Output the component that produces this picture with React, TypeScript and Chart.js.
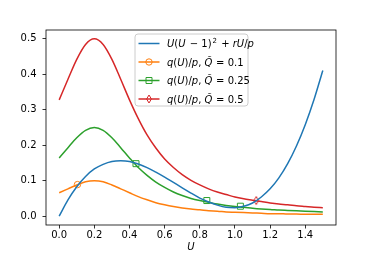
import React, { useEffect, useRef } from 'react';
import { Chart, registerables } from 'chart.js';

Chart.register(...registerables);

const U_VALUES = [0, 0.05, 0.1, 0.15, 0.2, 0.25, 0.3, 0.35, 0.4, 0.45, 0.5, 0.55, 0.6, 0.65, 0.7, 0.75, 0.8, 0.85, 0.9, 0.95, 1.0, 1.05, 1.1, 1.15, 1.2, 1.25, 1.3, 1.35, 1.4, 1.45, 1.5];
const BLUE_VALUES = [0, 0.046, 0.083, 0.112, 0.133, 0.146, 0.154, 0.156, 0.154, 0.147, 0.137, 0.124, 0.110, 0.095, 0.080, 0.065, 0.051, 0.040, 0.031, 0.025, 0.024, 0.028, 0.037, 0.054, 0.077, 0.108, 0.148, 0.198, 0.258, 0.329, 0.411];
const ORANGE_VALUES = [0.066, 0.077, 0.088, 0.097, 0.100, 0.097, 0.088, 0.077, 0.066, 0.055, 0.046, 0.038, 0.032, 0.027, 0.023, 0.020, 0.018, 0.015, 0.014, 0.012, 0.011, 0.010, 0.009, 0.008, 0.007, 0.007, 0.006, 0.006, 0.005, 0.005, 0.005];
const GREEN_VALUES = [0.164, 0.193, 0.221, 0.242, 0.250, 0.242, 0.221, 0.193, 0.164, 0.137, 0.115, 0.096, 0.081, 0.068, 0.058, 0.050, 0.044, 0.039, 0.034, 0.030, 0.027, 0.025, 0.022, 0.020, 0.019, 0.017, 0.016, 0.015, 0.014, 0.013, 0.012];
const RED_VALUES = [0.328, 0.386, 0.442, 0.484, 0.500, 0.484, 0.442, 0.386, 0.328, 0.275, 0.229, 0.192, 0.161, 0.137, 0.117, 0.101, 0.088, 0.077, 0.068, 0.061, 0.054, 0.049, 0.045, 0.041, 0.037, 0.034, 0.032, 0.029, 0.027, 0.025, 0.024];

const ORANGE_MARK_U = [0.104];
const ORANGE_MARK_Y = [0.089];
const GREEN_MARK_U = [0.437, 0.84, 1.031];
const GREEN_MARK_Y = [0.148, 0.044, 0.028];
const RED_MARK_U = [1.121];
const RED_MARK_Y = [0.044];

const X_TICKS = [0, 0.2, 0.4, 0.6, 0.8, 1.0, 1.2, 1.4];
const Y_TICKS = [0, 0.1, 0.2, 0.3, 0.4, 0.5];

const BLUE = '#1f77b4';
const ORANGE = '#ff7f0e';
const GREEN = '#2ca02c';
const RED = '#d62728';

type Seg = { t: string; it?: boolean; sup?: boolean; gap?: number };
const LEGEND_ITEMS: { color: string; marker: string | null; segs: Seg[] }[] = [
  {
    color: BLUE, marker: null,
    segs: [{ t: 'U', it: true }, { t: '(' }, { t: 'U', it: true }, { t: ' \u2212 1)', gap: 1 }, { t: '2', sup: true, gap: 1 }, { t: ' + ', gap: 1 }, { t: 'rU', it: true }, { t: '/' }, { t: 'p', it: true }],
  },
  {
    color: ORANGE, marker: 'circle',
    segs: [{ t: 'q', it: true }, { t: '(' }, { t: 'U', it: true }, { t: ')/' }, { t: 'p', it: true }, { t: ', ' }, { t: 'Q\u0303', it: true }, { t: ' = 0.1', gap: 0.5 }],
  },
  {
    color: GREEN, marker: 'square',
    segs: [{ t: 'q', it: true }, { t: '(' }, { t: 'U', it: true }, { t: ')/' }, { t: 'p', it: true }, { t: ', ' }, { t: 'Q\u0303', it: true }, { t: ' = 0.25', gap: 0.5 }],
  },
  {
    color: RED, marker: 'diamond',
    segs: [{ t: 'q', it: true }, { t: '(' }, { t: 'U', it: true }, { t: ')/' }, { t: 'p', it: true }, { t: ', ' }, { t: 'Q\u0303', it: true }, { t: ' = 0.5', gap: 0.5 }],
  },
];

const FONT = '"DejaVu Sans"';
const TICK_SIZE = 10;
const LEGEND_SIZE = 10;

function drawMarker(ctx: CanvasRenderingContext2D, kind: string, x: number, y: number, color: string) {
  ctx.save();
  ctx.strokeStyle = color;
  ctx.lineWidth = 1;
  ctx.beginPath();
  if (kind === 'circle') {
    ctx.arc(x, y, 3.2, 0, Math.PI * 2);
  } else if (kind === 'square') {
    ctx.rect(x - 3, y - 3, 6, 6);
  } else if (kind === 'diamond') {
    ctx.moveTo(x, y - 4);
    ctx.lineTo(x + 2.4, y);
    ctx.lineTo(x, y + 4);
    ctx.lineTo(x - 2.4, y);
    ctx.closePath();
  }
  ctx.stroke();
  ctx.restore();
}

function makeDiamond(color: string): HTMLCanvasElement {
  const c = document.createElement('canvas');
  c.width = 8;
  c.height = 11;
  const ctx = c.getContext('2d')!;
  drawMarker(ctx, 'diamond', 4, 5.5, color);
  return c;
}

const framePlugin = {
  id: 'framePlugin',
  afterDraw(chart: any) {
    const { ctx, chartArea } = chart;
    const { left, top, right, bottom } = chartArea;
    ctx.save();
    ctx.strokeStyle = '#000';
    ctx.lineWidth = 0.8;
    ctx.strokeRect(left, top, right - left, bottom - top);

    const bx = 135, by = 34, bw = 113, bh = 72, r = 3;
    ctx.beginPath();
    ctx.moveTo(bx + r, by);
    ctx.lineTo(bx + bw - r, by);
    ctx.quadraticCurveTo(bx + bw, by, bx + bw, by + r);
    ctx.lineTo(bx + bw, by + bh - r);
    ctx.quadraticCurveTo(bx + bw, by + bh, bx + bw - r, by + bh);
    ctx.lineTo(bx + r, by + bh);
    ctx.quadraticCurveTo(bx, by + bh, bx, by + bh - r);
    ctx.lineTo(bx, by + r);
    ctx.quadraticCurveTo(bx, by, bx + r, by);
    ctx.closePath();
    ctx.fillStyle = 'rgba(255,255,255,0.8)';
    ctx.fill();
    ctx.strokeStyle = '#cccccc';
    ctx.lineWidth = 1;
    ctx.stroke();

    LEGEND_ITEMS.forEach((item, i) => {
      const y = 43.5 + i * 18.5;
      ctx.strokeStyle = item.color;
      ctx.lineWidth = 1.5;
      ctx.beginPath();
      ctx.moveTo(138.5, y);
      ctx.lineTo(159.5, y);
      ctx.stroke();
      if (item.marker) drawMarker(ctx, item.marker, 149, y, item.color);
      let x = 167;
      const base = y + 3.6;
      ctx.fillStyle = '#000';
      ctx.textBaseline = 'alphabetic';
      ctx.textAlign = 'left';
      item.segs.forEach((s) => {
        const size = s.sup ? LEGEND_SIZE * 0.7 : LEGEND_SIZE;
        ctx.font = `${s.it ? 'italic ' : ''}${size}px ${FONT}`;
        const yy = s.sup ? base - LEGEND_SIZE * 0.42 : base;
        x += s.gap || 0;
        ctx.fillText(s.t, x, yy);
        x += ctx.measureText(s.t).width;
      });
    });
    ctx.restore();
  },
};

export default function App() {
  const ref = useRef<HTMLCanvasElement | null>(null);
  useEffect(() => {
    document.body.style.margin = '0';
    const canvas = ref.current!;
    const line = (vals: number[], color: string) => ({
      data: U_VALUES.map((u, i) => ({ x: u, y: vals[i] })),
      borderColor: color,
      backgroundColor: color,
      borderWidth: 1.5,
      pointRadius: 0,
      fill: false,
      cubicInterpolationMode: 'monotone' as const,
    });
    const marks = (us: number[], ys: number[], color: string, style: any, radius: number) => ({
      data: us.map((u, i) => ({ x: u, y: ys[i] })),
      showLine: false,
      borderColor: color,
      pointBorderColor: color,
      pointBackgroundColor: 'rgba(0,0,0,0)',
      pointBorderWidth: 1,
      pointRadius: radius,
      pointStyle: style,
    });
    const chart = new Chart(canvas, {
      type: 'line',
      data: {
        datasets: [
          line(BLUE_VALUES, BLUE),
          line(ORANGE_VALUES, ORANGE),
          line(GREEN_VALUES, GREEN),
          line(RED_VALUES, RED),
          marks(ORANGE_MARK_U, ORANGE_MARK_Y, ORANGE, 'circle', 3.2),
          marks(GREEN_MARK_U, GREEN_MARK_Y, GREEN, 'rect', 4.24),
          marks(RED_MARK_U, RED_MARK_Y, RED, makeDiamond(RED), 4),
        ] as any,
      },
      options: {
        animation: false,
        responsive: false,
        devicePixelRatio: 1,
        layout: { padding: { left: 0, right: 38, top: 30, bottom: 0 } },
        plugins: { legend: { display: false }, tooltip: { enabled: false } },
        events: [],
        scales: {
          x: {
            type: 'linear',
            min: -0.075,
            max: 1.575,
            afterBuildTicks: (s: any) => { s.ticks = X_TICKS.map((v) => ({ value: v })); },
            afterFit: (s: any) => { s.height = 32; },
            grid: { drawOnChartArea: false, drawTicks: true, tickLength: 3.5, color: '#000', lineWidth: 0.8 },
            border: { display: false },
            ticks: {
              font: { family: FONT, size: TICK_SIZE },
              color: '#000',
              padding: 1,
              maxRotation: 0,
              autoSkip: false,
              callback: (v: any) => Number(v).toFixed(1),
            },
            title: {
              display: true,
              text: 'U',
              color: '#000',
              font: { family: FONT, size: 10, style: 'italic' },
              padding: { top: 0, bottom: 4 },
            },
          },
          y: {
            type: 'linear',
            min: -0.025,
            max: 0.525,
            afterBuildTicks: (s: any) => { s.ticks = Y_TICKS.map((v) => ({ value: v })); },
            afterFit: (s: any) => { s.width = 46; },
            grid: { drawOnChartArea: false, drawTicks: true, tickLength: 3.5, color: '#000', lineWidth: 0.8 },
            border: { display: false },
            ticks: {
              font: { family: FONT, size: TICK_SIZE },
              color: '#000',
              padding: 6,
              autoSkip: false,
              callback: (v: any) => Number(v).toFixed(1),
            },
          },
        },
      } as any,
      plugins: [framePlugin],
    });
    return () => chart.destroy();
  }, []);
  return (
    <div style={{ width: 374, height: 257, position: 'relative' }}>
      <canvas ref={ref} width={374} height={257} style={{ width: 374, height: 257, display: 'block' }} />
    </div>
  );
}
